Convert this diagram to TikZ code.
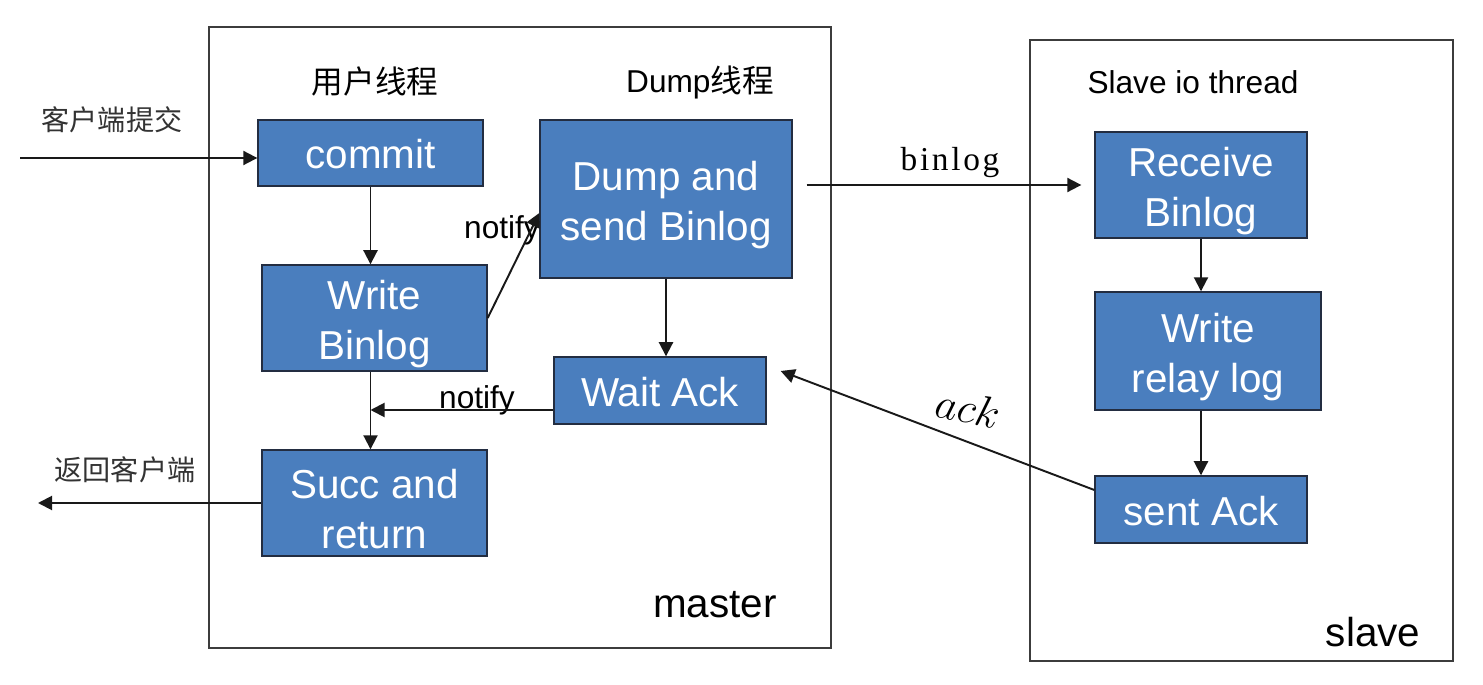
\documentclass[tikz,border=0pt]{standalone}
\usepackage{fontspec}
\setmainfont{Liberation Sans}
\newfontfamily\cjk{Noto Sans CJK SC}
\newfontfamily\serifb[LetterSpace=8]{Liberation Serif}
\usetikzlibrary{arrows.meta,calc}
\definecolor{boxblue}{RGB}{74,126,190}
\definecolor{boxedge}{RGB}{35,45,65}
\definecolor{framegray}{RGB}{60,60,60}
\newcommand\mytopstrut{\rule{0pt}{23.5pt}}
\tikzset{
  box/.style={draw=boxedge, line width=0.8pt, fill=boxblue, text=white, align=center,
    font=\fontsize{23}{28}\selectfont, inner sep=0pt},
  frame/.style={draw=framegray, line width=1.1pt},
  arr/.style={draw=black!90, line width=1.1pt, -{Triangle[length=8pt,width=8pt]}},
  lbl/.style={inner sep=0pt, font=\fontsize{18}{20}\selectfont},
  cjklbl/.style={inner sep=0pt, text=black!80, font=\cjk\fontsize{16}{18}\selectfont},
}
\begin{document}
\begin{tikzpicture}[x=0.02cm,y=-0.02cm]
\useasboundingbox[fill=white] (0,0) rectangle (1483,685);
% frames
\draw[frame] (209,27) rectangle (831,648);
\draw[frame] (1030,40) rectangle (1453,661);
% boxes
\node[box, minimum width=4.5cm, minimum height=1.32cm] (commit) at (370.5,153) {\rule{0pt}{18pt}commit};
\node[box, minimum width=4.5cm, minimum height=2.12cm] (write) at (374.5,318) {\mytopstrut Write\\Binlog};
\node[box, minimum width=4.5cm, minimum height=2.12cm] (succ) at (374.5,503) {\mytopstrut Succ and\\return};
\node[box, minimum width=5.04cm, minimum height=3.16cm] (dump) at (666,199) {\mytopstrut Dump and\\send Binlog};
\node[box, minimum width=4.24cm, minimum height=1.34cm] (wait) at (660,390.5) {\rule{0pt}{18pt}Wait Ack};
\node[box, minimum width=4.24cm, minimum height=2.12cm] (recv) at (1201,185) {\mytopstrut Receive\\Binlog};
\node[box, minimum width=4.52cm, minimum height=2.36cm] (relay) at (1208,351) {\mytopstrut Write\\relay log};
\node[box, minimum width=4.24cm, minimum height=1.34cm] (sent) at (1201,509.5) {\rule{0pt}{18pt}sent Ack};
% labels
\node[lbl, font=\cjk\fontsize{18}{20}\selectfont] (ut) at (375,82) {用户线程};
\node[lbl] (dt) at (700,82) {Dump{\cjk 线程}};
\node[lbl] (st) at (1193,82) {Slave io thread};
\node[cjklbl] (ctj) at (112,120) {客户端提交};
\node[cjklbl] (fh) at (125,470) {返回客户端};
\node[lbl, font=\fontsize{23}{26}\selectfont] (ms) at (715,605) {master};
\node[lbl, font=\fontsize{23}{26}\selectfont] (sl) at (1373,632) {slave};
\node[lbl] (n1) at (502,230) {notify};
\node[lbl] (n2) at (477,400) {notify};
\node[inner sep=0pt, font=\serifb\fontsize{19}{20}\selectfont] (bl) at (950,163) {binlog};
\node[inner sep=0pt, rotate=-12, font=\fontsize{23}{26}\selectfont] (ak) at (968,408) {$ack$};
% coordinates
\coordinate (cin) at (20,158);
\coordinate (cout) at (38,503);
% connectors
\draw[arr] (cin) -- (cin -| commit.west);
\draw[arr] (commit.south) -- (commit.south |- write.north);
\draw[arr] (write.east) -- ([yshift=-0.28cm]dump.west);
\draw[arr] (dump.south) -- (dump.south |- wait.north);
\draw[arr] ([yshift=-0.39cm]wait.west) -- ([yshift=-0.39cm]wait.west -| commit.south);
\draw[arr] (commit.south |- write.south) -- (commit.south |- succ.north);
\draw[arr] (succ.west) -- (cout);
\draw[arr, shorten <=0.28cm, shorten >=0.26cm] (dump.east |- recv.west) -- (recv.west);
\draw[arr] (recv.south) -- (recv.south |- relay.north);
\draw[arr] (recv.south |- relay.south) -- (sent.north);
\draw[arr] ([yshift=0.39cm]sent.west) -- ([xshift=0.28cm,yshift=0.39cm]wait.east);
\end{tikzpicture}
\end{document}
